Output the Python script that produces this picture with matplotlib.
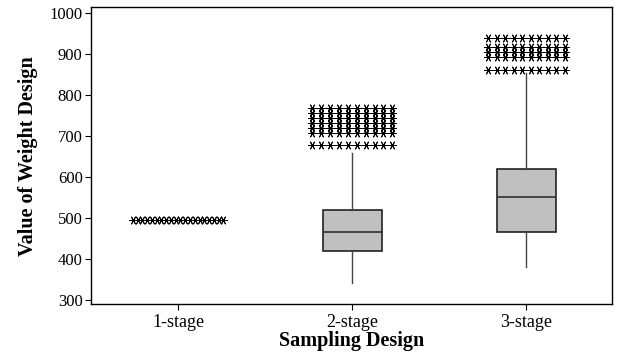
import numpy as np
import matplotlib
matplotlib.use("Agg")
import matplotlib.pyplot as plt

plt.rcParams['font.family'] = ['Liberation Serif', 'DejaVu Serif']

designs = ['1-stage', '2-stage', '3-stage']
positions = [1, 2, 3]

# box statistics
q1 = [495, 420, 466]
med = [495, 466, 552]
q3 = [495, 520, 620]
whislo = [495, 342, 380]
whishi = [495, 659, 854]

# rows of outlier stars per design
out_1 = [495]
out_2 = [678, 707, 720, 732, 744, 756, 768]
out_3 = [861, 893, 906, 918, 941]
outliers = [out_1, out_2, out_3]

# how many stars per row and how wide a row is (layout only)
n_cols = [20, 10, 10]
half_span = [0.26, 0.23, 0.22]

fig = plt.figure(figsize=(6.17, 3.62), dpi=100)
ax = fig.add_axes([0.1475, 0.160, 0.844, 0.820])

stats = []
for i in range(1, 3):
    stats.append({
        'med': med[i], 'q1': q1[i], 'q3': q3[i],
        'whislo': whislo[i], 'whishi': whishi[i], 'fliers': [],
    })

ax.bxp(stats, positions=positions[1:], widths=0.34, patch_artist=True,
       showcaps=False, showfliers=False,
       boxprops=dict(facecolor='#c0c0c0', edgecolor='#222222', linewidth=1.2),
       medianprops=dict(color='#333333', linewidth=1.2),
       whiskerprops=dict(color='#444444', linewidth=1.0))

for pos, rows, nc, hs in zip(positions, outliers, n_cols, half_span):
    offs = np.linspace(-hs, hs, nc)
    for v in rows:
        ax.scatter(pos + offs, [v] * nc, marker=(6, 2, 90), s=32,
                   color='black', linewidths=0.7, zorder=3)

ax.set_xlim(0.5, 3.49)
ax.set_ylim(290, 1015)
ax.set_xticks(positions)
ax.set_xticklabels(designs, fontsize=13)
ax.set_yticks(range(300, 1001, 100))
ax.tick_params(axis='y', labelsize=12, direction='out', length=4, pad=2)
ax.tick_params(axis='x', direction='out', length=4, pad=3)

for s in ax.spines.values():
    s.set_linewidth(1.0)

ax.set_xlabel('Sampling Design', fontsize=14.5, fontweight='bold', labelpad=0)
ax.set_ylabel('Value of Weight Design', fontsize=14.5, fontweight='bold', labelpad=8)

fig.savefig('out.png', dpi=100)
